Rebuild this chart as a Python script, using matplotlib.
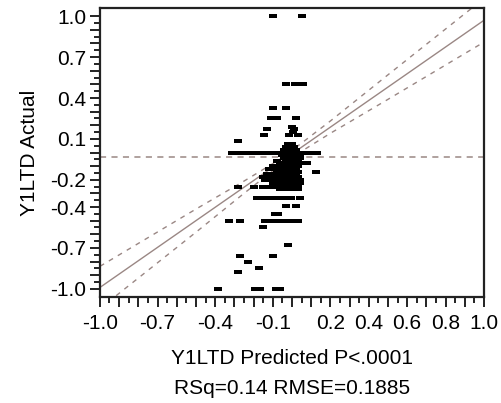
#!/usr/bin/env python3

import matplotlib
matplotlib.use('Agg')
import matplotlib.pyplot as plt
from matplotlib.ticker import FixedLocator

# actual value levels and the predicted values seen at each level
row_actual = [1.00, 0.50, 0.33, 0.25, 0.19, 0.17, 0.15, 0.13, 0.085, 0.06, 0.04, 0.02, 0.00,
              -0.02, -0.04, -0.06, -0.08, -0.10, -0.12, -0.14, -0.16, -0.18, -0.20, -0.22,
              -0.25, -0.27, -0.33, -0.39, -0.45, -0.50, -0.55, -0.68, -0.76, -0.80, -0.845,
              -0.875, -1.00]
row_pred = [
    [-0.10, 0.05],
    [-0.03, 0.015, 0.057],
    [-0.10, -0.03],
    [-0.11, -0.08, 0.02],
    [0.00],
    [-0.13, 0.01],
    [0.005],
    [-0.145, -0.015, 0.03],
    [-0.28],
    [-0.02, 0.0],
    [-0.03, -0.01, 0.01],
    [-0.04, -0.01, 0.01, 0.02],
    [-0.31, -0.27, -0.245, -0.22, -0.195, -0.17, -0.145, -0.12, -0.095, -0.07, -0.045,
     -0.02, 0.005, 0.03, 0.055, 0.08, 0.105, 0.13],
    [-0.05, -0.02, 0.0, 0.02, 0.04],
    [-0.04, -0.02, 0.0, 0.02, 0.04],
    [-0.08, -0.03, -0.01, 0.01, 0.03],
    [-0.06, -0.03, 0.0, 0.02, 0.04, 0.08],
    [-0.10, -0.07, -0.04, -0.01, 0.01, 0.03],
    [-0.12, -0.09, -0.05, -0.02, 0.0, 0.02],
    [-0.08, -0.05, -0.02, 0.0, 0.03, 0.125],
    [-0.13, -0.10, -0.07, -0.03, 0.0, 0.02],
    [-0.15, -0.12, -0.09, -0.06, -0.03, 0.0, 0.03],
    [-0.14, -0.11, -0.08, -0.05, -0.02, 0.01, 0.04],
    [-0.10, -0.06, -0.02, 0.02, 0.04],
    [-0.28, -0.20, -0.15, -0.12, -0.09, -0.06, -0.03, 0.0, 0.03],
    [-0.06, -0.04, 0.0, 0.03],
    [-0.18, -0.155, -0.13, -0.105, -0.08, -0.055, -0.03, -0.005, 0.04],
    [-0.03, 0.02],
    [-0.09, -0.07],
    [-0.33, -0.27, -0.14, -0.11, -0.08, -0.05, -0.02, 0.01, 0.03],
    [-0.15],
    [-0.02],
    [-0.27, -0.10],
    [-0.23],
    [-0.17],
    [-0.28],
    [-0.385, -0.19, -0.165, -0.085, -0.06],
]

# fit line and confidence curves
fit_x = [-1.0, 1.0]
fit_y = [-0.99, 0.97]
band_x = [-1.0, -0.75, -0.5, -0.25, -0.05, 0.2, 0.5, 0.75, 1.0]
band_upper = [-0.835, -0.625, -0.415, -0.21, -0.039, 0.231, 0.57, 0.85, 1.13]
band_lower = [-1.145, -0.865, -0.585, -0.30, -0.079, 0.141, 0.39, 0.60, 0.81]
mean_actual = -0.033

x_labels = [-1.0, -0.7, -0.4, -0.1, 0.2, 0.4, 0.6, 0.8, 1.0]
y_labels = [-1.0, -0.7, -0.4, -0.2, 0.1, 0.4, 0.7, 1.0]

plt.rcParams['font.family'] = ['Liberation Sans', 'DejaVu Sans']

pred = []
actual = []
for y, xs in zip(row_actual, row_pred):
    for x in xs:
        pred.append(x)
        actual.append(y)

fig = plt.figure(figsize=(5.02, 4.03), dpi=100)
ax = fig.add_axes([0.199, 0.263, 0.765, 0.717])

line_col = '#9a8784'
ax.axhline(mean_actual, color=line_col, lw=1.1, ls=(0, (4, 3.5)))
ax.plot(fit_x, fit_y, color=line_col, lw=1.0)
ax.plot(band_x, band_upper, color=line_col, lw=1.0, ls=(0, (3.5, 4)))
ax.plot(band_x, band_lower, color=line_col, lw=1.0, ls=(0, (3.5, 4)))

rect = [(-1, -0.55), (1, -0.55), (1, 0.55), (-1, 0.55)]
ax.plot(pred, actual, ls='none', marker=rect, ms=6, color='black', mew=0)

ax.set_xlim(-1.0, 1.0)
ax.set_ylim(-1.06, 1.06)

# majors every 0.1 (only some labelled), minors in between
tens = [round(-1.0 + 0.1 * i, 1) for i in range(21)]
halves = [round(-0.95 + 0.1 * i, 2) for i in range(20)]
ax.xaxis.set_major_locator(FixedLocator(tens))
ax.yaxis.set_major_locator(FixedLocator(tens))
ax.xaxis.set_minor_locator(FixedLocator(halves))
ax.yaxis.set_minor_locator(FixedLocator(halves))
ax.set_xticklabels([f'{t:.1f}' if t in x_labels else '' for t in tens])
ax.set_yticklabels([f'{t:.1f}' if t in y_labels else '' for t in tens])

ax.tick_params(which='major', length=7, width=1.4, labelsize=15, color='#222222')
ax.tick_params(which='minor', length=4, width=1.4, color='#222222')
ax.tick_params(axis='y', pad=3)
ax.tick_params(axis='x', pad=5)
for sp in ax.spines.values():
    sp.set_linewidth(1.6)
    sp.set_color('#222222')

ax.set_ylabel('Y1LTD Actual', fontsize=15, labelpad=8)
fig.text(292 / 502, 1 - 358 / 403, 'Y1LTD Predicted P<.0001', fontsize=15,
         ha='center', va='center')
fig.text(292 / 502, 1 - 388 / 403, 'RSq=0.14 RMSE=0.1885', fontsize=15,
         ha='center', va='center')

fig.savefig('out.png', dpi=100)
